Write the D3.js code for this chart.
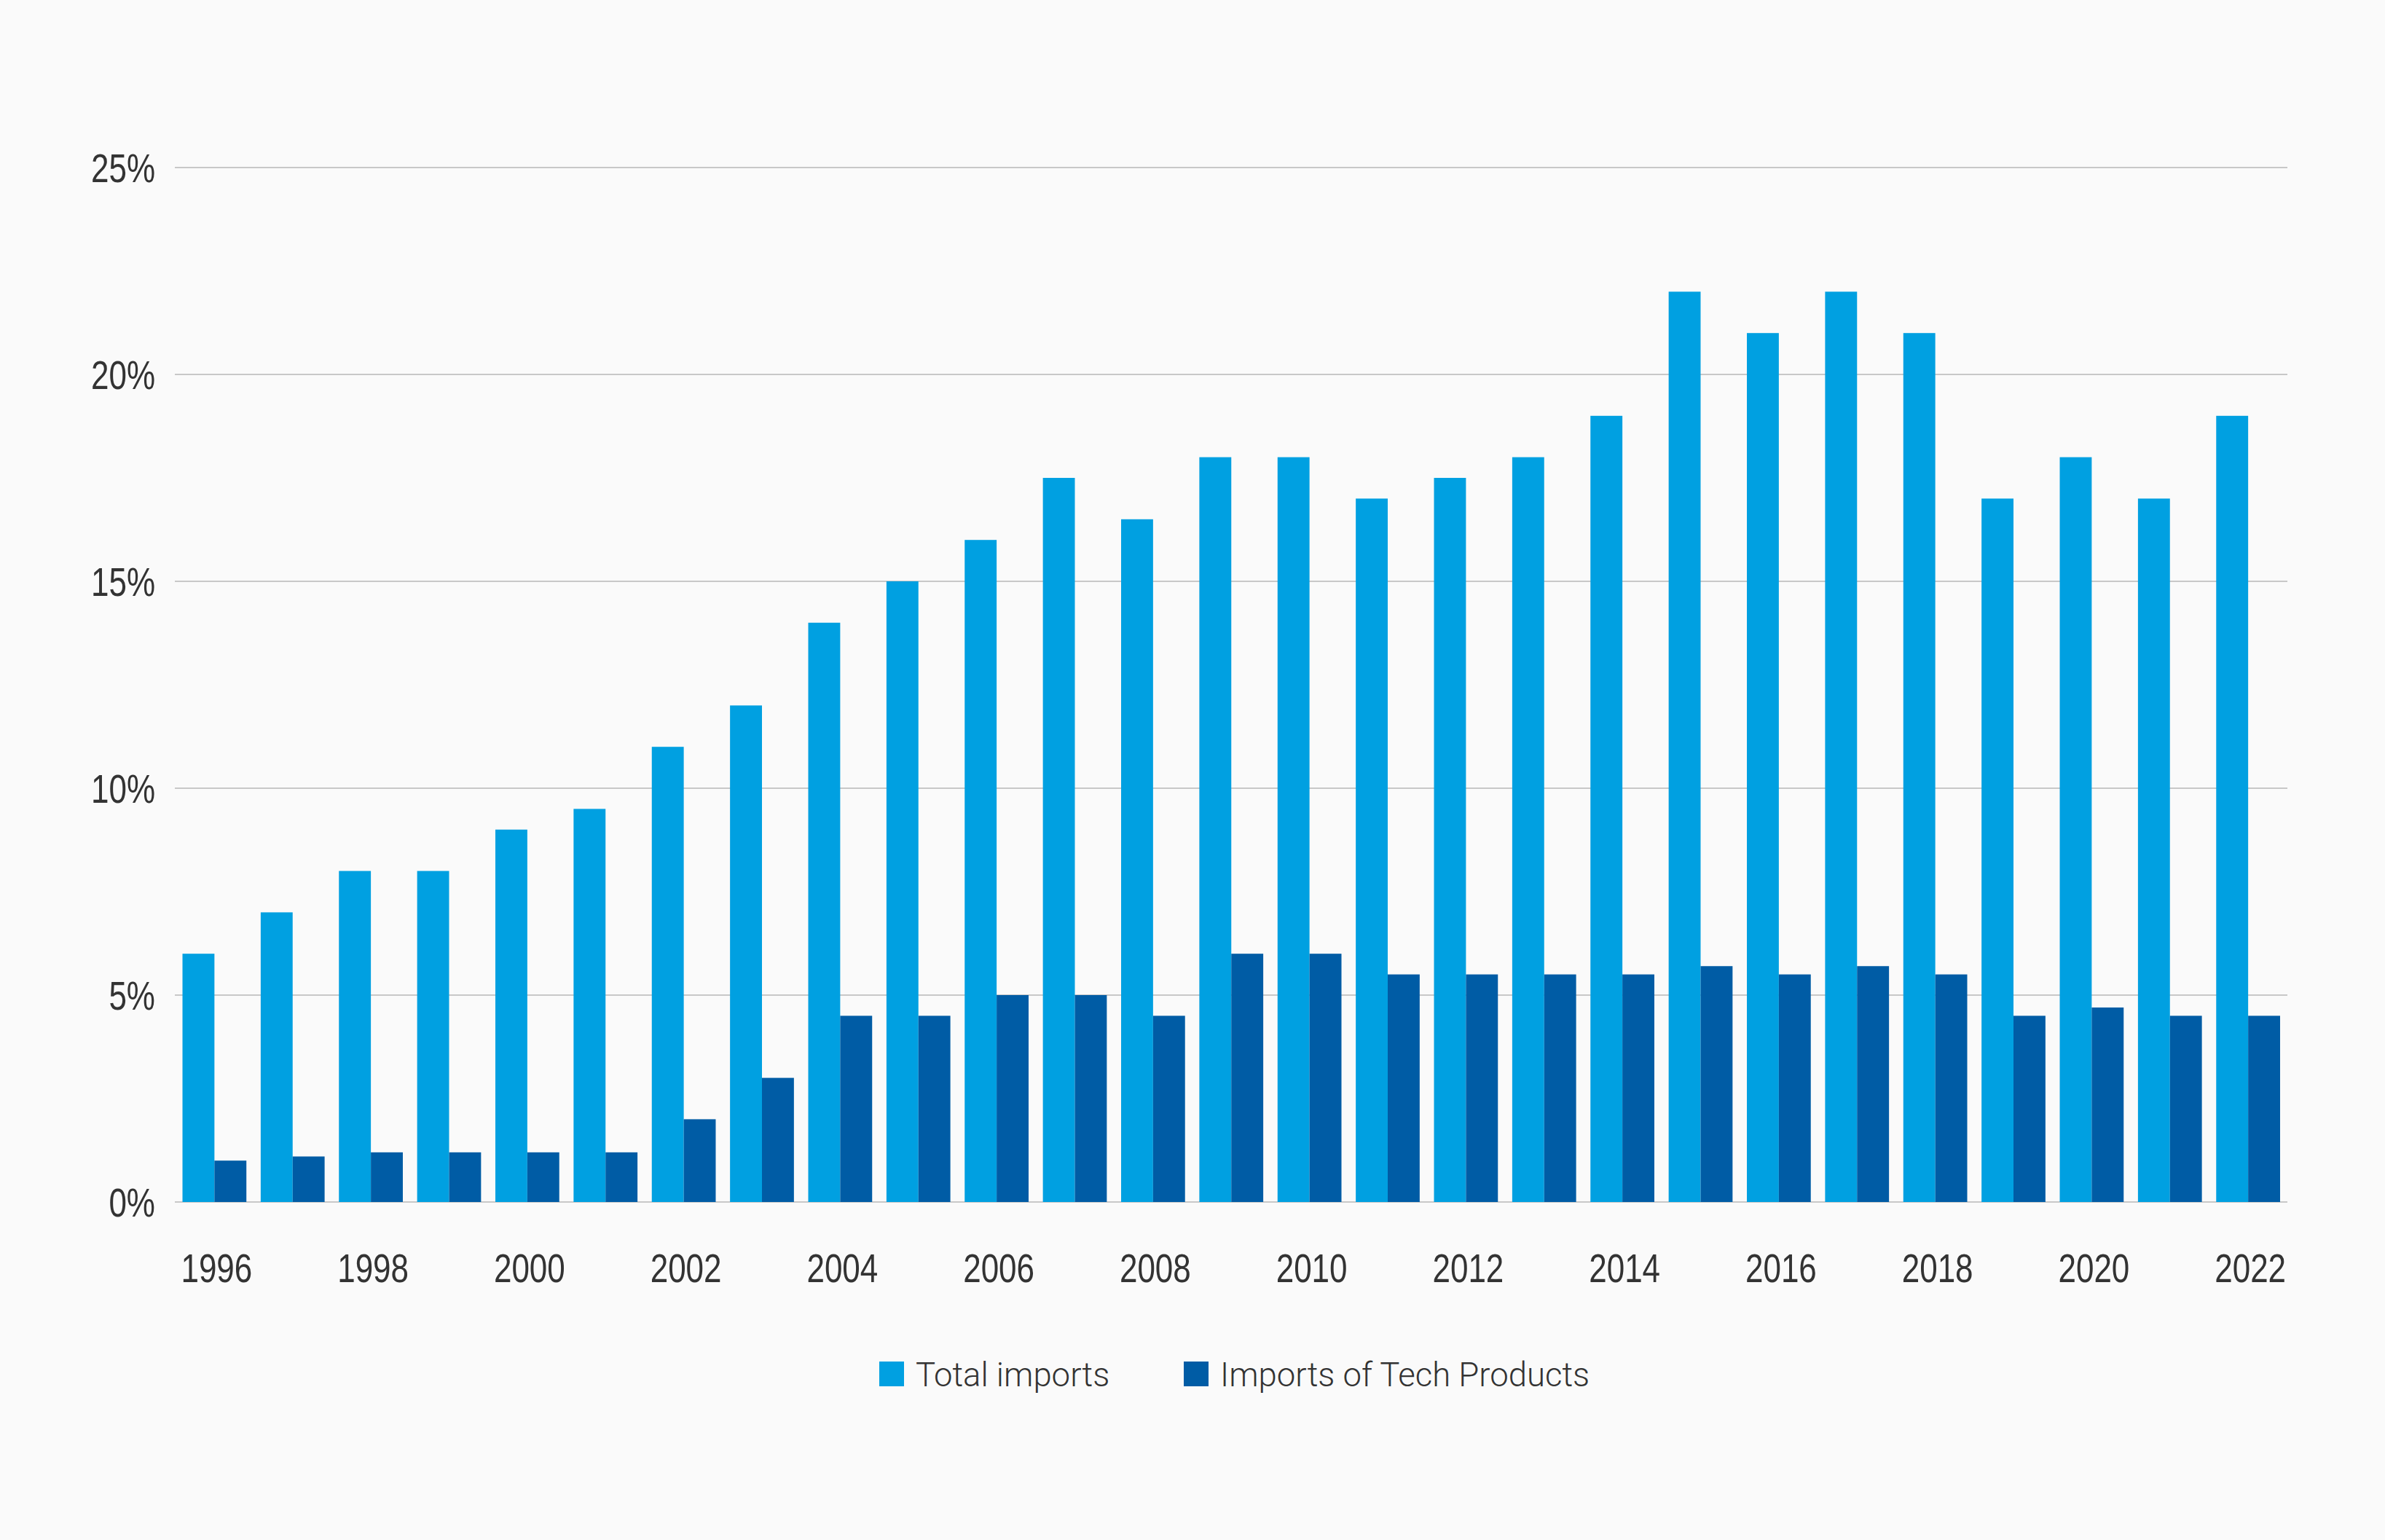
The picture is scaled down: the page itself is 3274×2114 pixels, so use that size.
<!DOCTYPE html>
<html>
<head>
<meta charset="utf-8">
<script src="https://cdn.jsdelivr.net/npm/d3@7"></script>
<style>
  html, body { margin: 0; padding: 0; background: #fafafa; }
  svg { display: block; }
</style>
</head>
<body>
<svg id="chart" width="3274" height="2114"></svg>
<script>
const years = [1996,1997,1998,1999,2000,2001,2002,2003,2004,2005,2006,2007,2008,2009,2010,2011,2012,2013,2014,2015,2016,2017,2018,2019,2020,2021,2022];
const totalImports = [6,7,8,8,9,9.5,11,12,14,15,16,17.5,16.5,18,18,17,17.5,18,19,22,21,22,21,17,18,17,19];
const techImports = [1.0,1.1,1.2,1.2,1.2,1.2,2.0,3.0,4.5,4.5,5.0,5.0,4.5,6.0,6.0,5.5,5.5,5.5,5.5,5.7,5.5,5.7,5.5,4.5,4.7,4.5,4.5];
const yTicks = [0,5,10,15,20,25];
const xTickYears = [1996,1998,2000,2002,2004,2006,2008,2010,2012,2014,2016,2018,2020,2022];
const seriesNames = ["Total imports", "Imports of Tech Products"];
const seriesColors = ["#00a0e1", "#005ca5"];

const svg = d3.select("#chart");
svg.append("rect").attr("width", 3274).attr("height", 2114).attr("fill", "#fafafa");

const x = d3.scaleBand().domain(years).range([250.5, 3130]).paddingInner(0.183).paddingOuter(0);
const xs = d3.scaleBand().domain([0,1]).range([0, x.bandwidth()]).padding(0);
const y = d3.scaleLinear().domain([0, 25]).range([1650, 230]);

const gridX0 = 240, gridX1 = 3140;

// gridlines
svg.append("g").selectAll("line").data(yTicks).join("line")
  .attr("x1", gridX0).attr("x2", gridX1)
  .attr("y1", d => y(d)).attr("y2", d => y(d))
  .attr("stroke", "#c8c8c8").attr("stroke-width", 2);

// y labels
const narrow = "'Liberation Sans Narrow', 'Arial Narrow', sans-serif";
svg.append("g").selectAll("text").data(yTicks).join("text")
  .attr("transform", d => `translate(213,${y(d) + 20}) scale(0.8,1)`)
  .attr("text-anchor", "end")
  .attr("font-family", narrow).attr("font-size", 55)
  .attr("fill", "#333")
  .text(d => d + "%");

// bars
const rows = years.map((yr, i) => ({ year: yr, vals: [totalImports[i], techImports[i]] }));
const groups = svg.append("g").selectAll("g").data(rows).join("g")
  .attr("transform", d => `translate(${x(d.year)},0)`);
groups.selectAll("rect").data(d => d.vals.map((v, k) => ({ v, k }))).join("rect")
  .attr("x", d => xs(d.k))
  .attr("width", xs.bandwidth())
  .attr("y", d => y(d.v))
  .attr("height", d => y(0) - y(d.v))
  .attr("fill", d => seriesColors[d.k]);

// x labels
svg.append("g").selectAll("text").data(xTickYears).join("text")
  .attr("transform", d => `translate(${x(d) + x.bandwidth() / 2 + 3},1760) scale(0.8,1)`)
  .attr("text-anchor", "middle")
  .attr("font-family", narrow).attr("font-size", 55)
  .attr("fill", "#333")
  .text(d => d);

// legend
const legendItems = [
  { name: seriesNames[0], color: seriesColors[0], x: 1207 },
  { name: seriesNames[1], color: seriesColors[1], x: 1625 }
];
const lg = svg.append("g").selectAll("g").data(legendItems).join("g")
  .attr("transform", d => `translate(${d.x},1869)`);
lg.append("rect").attr("width", 34).attr("height", 34).attr("fill", d => d.color);
lg.append("text")
  .attr("x", 50).attr("y", 34)
  .attr("font-family", "Roboto, 'Liberation Sans', sans-serif")
  .attr("font-weight", 300)
  .attr("font-size", 45.5)
  .attr("fill", "#333")
  .text(d => d.name);
</script>
</body>
</html>
